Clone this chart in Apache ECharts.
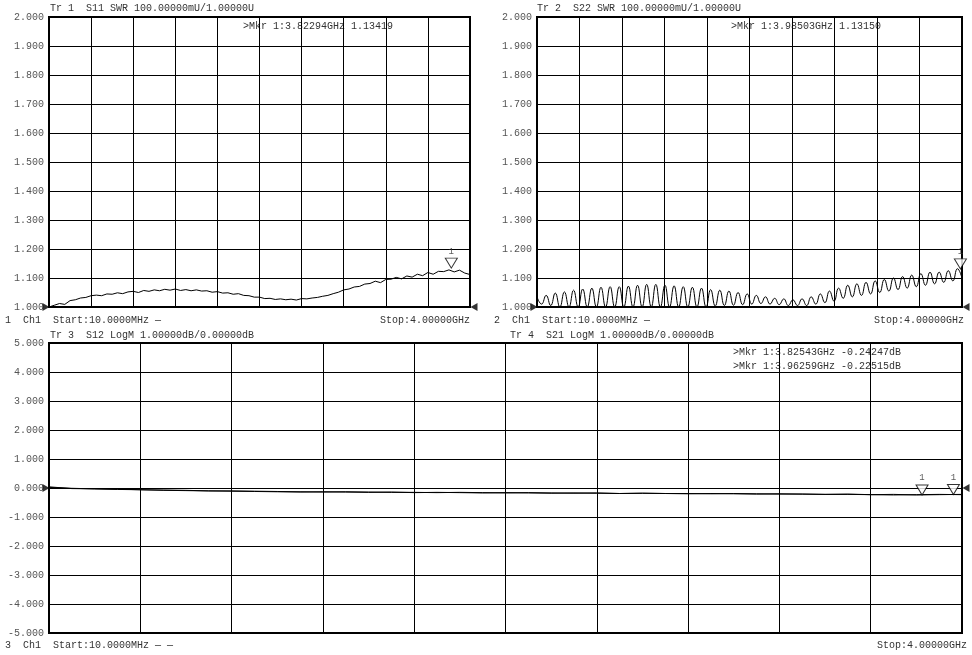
<!DOCTYPE html>
<html>
<head>
<meta charset="utf-8">
<script src="https://cdn.jsdelivr.net/npm/echarts@6/dist/echarts.min.js"></script>
<style>
  html, body { margin: 0; padding: 0; background: #fff; }
  #chart { width: 972px; height: 655px; }
</style>
</head>
<body>
<div id="chart"></div>
<script>
// sweep: 10 MHz .. 4 GHz (values in GHz)
const startGHz = 0.01;
const stopGHz = 4.0;

// Tr 1  S11 SWR
const s11 = [1.000, 1.006, 1.012, 1.009, 1.022, 1.025, 1.031, 1.033, 1.039, 1.041,
  1.039, 1.045, 1.044, 1.049, 1.046, 1.052, 1.054, 1.050, 1.057, 1.054,
  1.059, 1.056, 1.061, 1.058, 1.062, 1.057, 1.060, 1.056, 1.059, 1.055,
  1.056, 1.051, 1.053, 1.048, 1.049, 1.044, 1.046, 1.040, 1.039, 1.034,
  1.034, 1.029, 1.030, 1.026, 1.028, 1.025, 1.027, 1.024, 1.029, 1.028,
  1.031, 1.033, 1.037, 1.040, 1.046, 1.051, 1.059, 1.062, 1.069, 1.071,
  1.079, 1.081, 1.089, 1.084, 1.095, 1.096, 1.102, 1.097, 1.107, 1.103,
  1.113, 1.108, 1.119, 1.113, 1.123, 1.122, 1.128, 1.121, 1.127, 1.117, 1.112];

// Tr 2  S22 SWR (ripple: trough, peak, trough, peak ...)
const s22 = [1.035, 1.010, 1.040, 1.005, 1.048, 1.000, 1.052, 1.000, 1.058,
  1.000, 1.062, 1.000, 1.065, 1.000, 1.068, 1.000, 1.070, 1.000, 1.070, 1.000, 1.072, 1.000, 1.075,
  1.000, 1.078, 1.000, 1.078, 1.000, 1.075, 1.000, 1.073, 1.000, 1.070, 1.000, 1.068,
  1.000, 1.065, 1.000, 1.060, 1.003, 1.058, 1.005, 1.055, 1.006, 1.050, 1.008, 1.045,
  1.010, 1.040, 1.012, 1.035, 1.010, 1.030, 1.008, 1.028, 1.005, 1.025, 1.005, 1.028,
  1.005, 1.035, 1.010, 1.045, 1.015, 1.055, 1.020, 1.065, 1.030, 1.075, 1.035, 1.080,
  1.040, 1.085, 1.045, 1.090, 1.050, 1.095, 1.055, 1.100, 1.060, 1.105, 1.065, 1.110,
  1.070, 1.115, 1.075, 1.120, 1.080, 1.120, 1.085, 1.125, 1.090, 1.132, 1.100];

// Tr 3  S12 LogM (dB)
const s12 = [0.04, -0.02, -0.03, -0.05, -0.06, -0.07, -0.08, -0.10, -0.11, -0.12,
  -0.13, -0.14, -0.13, -0.14, -0.15, -0.14, -0.16, -0.15, -0.16, -0.17,
  -0.16, -0.17, -0.18, -0.17, -0.18, -0.19, -0.18, -0.19, -0.20, -0.19,
  -0.20, -0.21, -0.20, -0.21, -0.22, -0.21, -0.23, -0.22, -0.24, -0.23, -0.22];
// Tr 4  S21 LogM (dB)
const s21 = [0.02, -0.01, -0.03, -0.04, -0.06, -0.08, -0.09, -0.10, -0.10, -0.11,
  -0.12, -0.13, -0.14, -0.13, -0.14, -0.15, -0.15, -0.16, -0.15, -0.16,
  -0.17, -0.16, -0.17, -0.18, -0.17, -0.19, -0.18, -0.19, -0.19, -0.20,
  -0.19, -0.20, -0.21, -0.21, -0.22, -0.22, -0.23, -0.24, -0.23, -0.22, -0.23];

// markers [GHz, value]
const mkrS11 = [3.82294, 1.13419];
const mkrS22 = [3.98503, 1.13150];
const mkrS12 = [3.82543, -0.24247];
const mkrS21 = [3.96259, -0.22515];

const swrTicks = [1.0, 2.0, 0.1];
const dbTicks = [-5, 5, 1];

function sweep(vals) {
  const n = vals.length;
  return vals.map((v, i) => [startGHz + i * (stopGHz - startGHz) / (n - 1), v]);
}

const font = "'Liberation Mono', 'DejaVu Sans Mono', monospace";
const grids = [
  { left: 49, top: 17, width: 421, height: 290 },
  { left: 537, top: 17, width: 425, height: 290 },
  { left: 49, top: 343, width: 913, height: 290 }
];

const xAxis = [];
const yAxis = [];
grids.forEach((g, i) => {
  // data axis (GHz)
  xAxis.push({ gridIndex: i, type: 'value', min: startGHz, max: stopGHz, show: false });
  // division axis for the 10 vertical grid lines
  xAxis.push({ gridIndex: i, type: 'value', min: 0, max: 10, interval: 1, show: true,
    axisLine: { show: false }, axisTick: { show: false }, axisLabel: { show: false },
    splitLine: { show: true, lineStyle: { color: '#000', width: 1 } } });
  const t = i < 2 ? swrTicks : dbTicks;
  yAxis.push({ gridIndex: i, type: 'value', min: t[0], max: t[1], interval: t[2],
    axisLine: { show: false }, axisTick: { show: false },
    splitLine: { show: true, lineStyle: { color: '#000', width: 1 } },
    axisLabel: { color: '#555', fontFamily: font, fontSize: 10, margin: 5,
      formatter: v => v.toFixed(3) } });
});

function trace(data, gi, smooth) {
  return { type: 'line', xAxisIndex: gi * 2, yAxisIndex: gi, data: sweep(data),
    symbol: 'none', smooth: smooth || false, lineStyle: { color: '#000', width: 1 }, silent: true, z: 5 };
}
function marker(p, gi) {
  return { type: 'scatter', xAxisIndex: gi * 2, yAxisIndex: gi, data: [p],
    symbol: 'triangle', symbolRotate: 180, symbolSize: [12, 10], symbolOffset: [0, -5],
    itemStyle: { color: '#fff', borderColor: '#000', borderWidth: 1 },
    label: { show: true, position: 'top', formatter: '1', fontFamily: font, fontSize: 9, color: '#333', distance: 2 },
    z: 6, silent: true };
}
function refArrows(y, gi) {
  return { type: 'scatter', xAxisIndex: gi * 2, yAxisIndex: gi,
    data: [
      { value: [startGHz, y], symbolRotate: -90, symbolOffset: [-3, 0] },
      { value: [stopGHz, y], symbolRotate: 90, symbolOffset: [4, 0] }
    ],
    symbol: 'triangle', symbolSize: [8, 7], itemStyle: { color: '#000' }, z: 7, silent: true };
}

const txt = (x, y, s, align) => ({ type: 'text', left: align === 'right' ? undefined : x,
  right: align === 'right' ? x : undefined, top: y,
  style: { text: s, fill: '#333', font: '10px ' + font } });

const chart = echarts.init(document.getElementById('chart'));
chart.setOption({
  backgroundColor: '#fff',
  animation: false,
  grid: grids.map(g => Object.assign({ show: true, borderColor: '#000', borderWidth: 2, backgroundColor: '#fff' }, g)),
  xAxis, yAxis,
  series: [
    trace(s11, 0), trace(s22, 1, 0.5), trace(s12, 2), trace(s21, 2),
    marker(mkrS11, 0), marker(mkrS22, 1), marker(mkrS12, 2), marker(mkrS21, 2),
    refArrows(1.0, 0), refArrows(1.0, 1), refArrows(0, 2)
  ],
  graphic: [
    txt(50, 3, 'Tr 1  S11 SWR 100.00000mU/1.00000U'),
    txt(243, 21, '>Mkr 1:3.82294GHz 1.13419'),
    txt(537, 3, 'Tr 2  S22 SWR 100.00000mU/1.00000U'),
    txt(731, 21, '>Mkr 1:3.98503GHz 1.13150'),
    txt(5, 315, '1  Ch1  Start:10.0000MHz \u2014'),
    txt(502, 315, 'Stop:4.00000GHz', 'right'),
    txt(494, 315, '2  Ch1  Start:10.0000MHz \u2014'),
    txt(8, 315, 'Stop:4.00000GHz', 'right'),
    txt(50, 330, 'Tr 3  S12 LogM 1.00000dB/0.00000dB'),
    txt(510, 330, 'Tr 4  S21 LogM 1.00000dB/0.00000dB'),
    txt(733, 347, '>Mkr 1:3.82543GHz -0.24247dB'),
    txt(733, 361, '>Mkr 1:3.96259GHz -0.22515dB'),
    txt(5, 640, '3  Ch1  Start:10.0000MHz \u2014 \u2014'),
    txt(5, 640, 'Stop:4.00000GHz', 'right')
  ]
});
</script>
</body>
</html>
